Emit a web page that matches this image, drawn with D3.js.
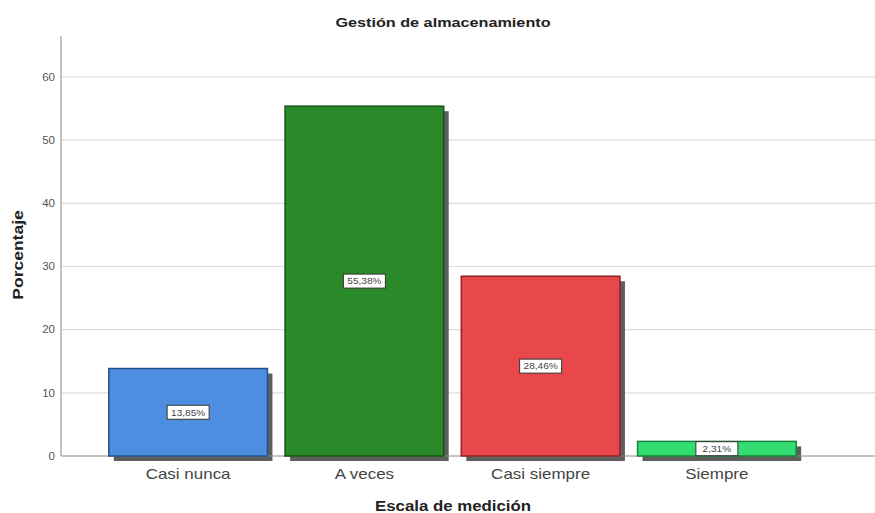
<!DOCTYPE html>
<html>
<head>
<meta charset="utf-8">
<script src="https://cdn.jsdelivr.net/npm/d3@7"></script>
<style>
  html, body { margin: 0; padding: 0; background: #fff; }
  svg { display: block; font-family: Arial, "Liberation Sans", sans-serif; }
</style>
</head>
<body>
<svg id="chart" width="875" height="513"></svg>
<script>
// Distribución porcentual de respuestas
const categories = ["Casi nunca", "A veces", "Casi siempre", "Siempre"];
const percentages = [13.85, 55.38, 28.46, 2.31];
const valueLabels = ["13,85%", "55,38%", "28,46%", "2,31%"];
const yTicks = [0, 10, 20, 30, 40, 50, 60];

const fills = ["#4E8EE0", "#2A8A2A", "#E8484B", "#33DE70"];
const strokes = ["#1F4F8F", "#145214", "#8F2224", "#17803A"];

const svg = d3.select("#chart");
const plotLeft = 61, plotRight = 875, plotTop = 36, plotBottom = 456;

// widen text horizontally by a factor, keeping its anchor
function stretch(sel, k) {
  sel.each(function () {
    const w = this.getComputedTextLength();
    d3.select(this).attr("textLength", w * k).attr("lengthAdjust", "spacingAndGlyphs");
  });
}

const y = d3.scaleLinear().domain([0, 60]).range([plotBottom, 77]);
const x = d3.scaleBand().domain(categories).range([100, 805])
  .paddingInner(0.1).paddingOuter(0.05);

// gridlines
svg.append("g")
  .selectAll("line")
  .data(yTicks.filter(d => d > 0))
  .join("line")
  .attr("x1", plotLeft).attr("x2", plotRight)
  .attr("y1", d => y(d)).attr("y2", d => y(d))
  .attr("stroke", "#dcdcdc").attr("stroke-width", 1.2);

// y axis
const yAxis = svg.append("g")
  .attr("transform", `translate(${plotLeft},0)`)
  .call(d3.axisLeft(y).tickValues(yTicks).tickSize(0).tickPadding(6));
yAxis.select(".domain").remove();
yAxis.selectAll("text").attr("font-size", 10).attr("fill", "#555")
  .call(stretch, 1.15);
svg.append("line")
  .attr("x1", plotLeft).attr("x2", plotLeft).attr("y1", plotTop).attr("y2", plotBottom)
  .attr("stroke", "#9a9a9a").attr("stroke-width", 1.2);

// bar shadows
svg.append("g")
  .selectAll("rect")
  .data(percentages)
  .join("rect")
  .attr("x", (d, i) => x(categories[i]) + 5)
  .attr("y", d => y(d) + 5)
  .attr("width", x.bandwidth())
  .attr("height", d => plotBottom - y(d))
  .attr("fill", "#5e5e5e");

// baseline
svg.append("line")
  .attr("x1", plotLeft).attr("x2", plotRight).attr("y1", plotBottom).attr("y2", plotBottom)
  .attr("stroke", "#888").attr("stroke-width", 1.2);

// bars
svg.append("g")
  .selectAll("rect")
  .data(percentages)
  .join("rect")
  .attr("x", (d, i) => x(categories[i]))
  .attr("y", d => y(d))
  .attr("width", x.bandwidth())
  .attr("height", d => plotBottom - y(d))
  .attr("fill", (d, i) => fills[i])
  .attr("stroke", (d, i) => strokes[i])
  .attr("stroke-width", 1.5);

// value labels
const lbl = svg.append("g")
  .selectAll("g")
  .data(percentages)
  .join("g")
  .attr("transform", (d, i) =>
    `translate(${x(categories[i]) + x.bandwidth() / 2},${(y(d) + plotBottom) / 2})`);
lbl.append("rect")
  .attr("x", -21).attr("y", -7).attr("width", 42).attr("height", 14)
  .attr("fill", "#fff").attr("stroke", "#333").attr("stroke-width", 1);
lbl.append("text")
  .attr("text-anchor", "middle").attr("dy", "0.36em")
  .attr("font-size", 9).attr("fill", "#444")
  .text((d, i) => valueLabels[i])
  .call(stretch, 1.12);

// x category labels
svg.append("g")
  .selectAll("text")
  .data(categories)
  .join("text")
  .attr("x", d => x(d) + x.bandwidth() / 2)
  .attr("y", 479)
  .attr("text-anchor", "middle")
  .attr("font-size", 14.5).attr("fill", "#444")
  .text(d => d)
  .call(stretch, 1.17);

// titles
svg.append("text")
  .attr("x", 443).attr("y", 27).attr("text-anchor", "middle")
  .attr("font-size", 13.5).attr("font-weight", "bold").attr("fill", "#222")
  .text("Gestión de almacenamiento")
  .call(stretch, 1.2);

svg.append("text")
  .attr("x", 453).attr("y", 511).attr("text-anchor", "middle")
  .attr("font-size", 14).attr("font-weight", "bold").attr("fill", "#222")
  .text("Escala de medición")
  .call(stretch, 1.2);

svg.append("text")
  .attr("transform", "translate(23,255) rotate(-90)")
  .attr("text-anchor", "middle")
  .attr("font-size", 14).attr("font-weight", "bold").attr("fill", "#222")
  .text("Porcentaje")
  .call(stretch, 1.25);
</script>
</body>
</html>
